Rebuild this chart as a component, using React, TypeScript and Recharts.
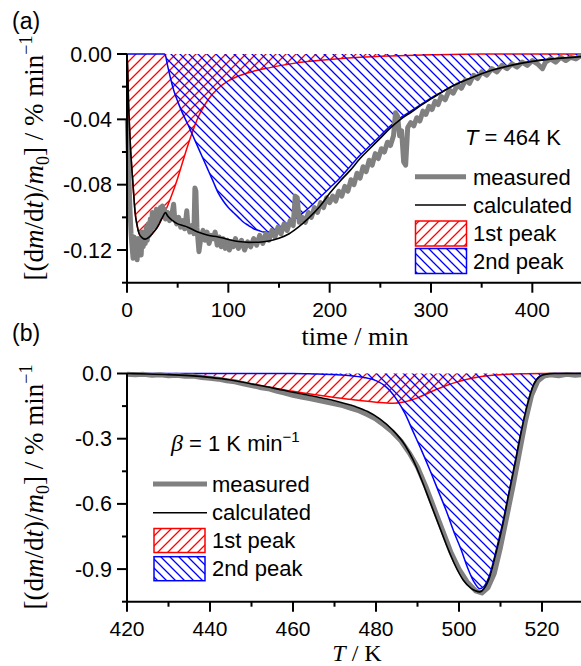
import React from 'react';
import { ComposedChart, Line, Area, XAxis, YAxis } from 'recharts';

const SANS = 'Liberation Sans, Arial, sans-serif';
const SERIF = 'Liberation Serif, Times New Roman, serif';

// (a) isothermal run, T = 464 K  — [time / min, rate]
const measuredA = [
  [0.3, -0.04], [1, -0.055], [2, -0.078], [3, -0.096], [4, -0.11], [5, -0.118], [6, -0.125], [7, -0.112],
  [8, -0.124], [9, -0.119], [10, -0.126], [11, -0.113], [12, -0.121], [13, -0.117], [14, -0.123], [15, -0.109],
  [16, -0.118], [17, -0.112], [18, -0.116], [19, -0.106], [20, -0.114], [21, -0.104], [22, -0.111], [23, -0.101],
  [24, -0.108], [25, -0.097], [26, -0.104], [27, -0.099], [28, -0.106], [29, -0.095], [30, -0.102], [31, -0.096],
  [32, -0.1], [33, -0.094], [34, -0.099], [35, -0.093], [36, -0.098], [37, -0.095], [38, -0.101], [40, -0.097],
  [42, -0.102], [44, -0.099], [46, -0.092], [47, -0.1], [49, -0.104], [51, -0.1], [53, -0.106], [55, -0.102],
  [57, -0.107], [59, -0.096], [60, -0.104], [62, -0.109], [64, -0.105], [66, -0.11], [67, -0.082], [68, -0.084],
  [69, -0.106], [71, -0.121], [73, -0.112], [75, -0.108], [77, -0.114], [79, -0.109], [81, -0.116], [83, -0.111],
  [85, -0.113], [87, -0.109], [89, -0.117], [91, -0.112], [93, -0.118], [95, -0.113], [97, -0.119], [99, -0.114],
  [101, -0.12], [103, -0.115], [105, -0.118], [107, -0.113], [110, -0.119], [113, -0.114], [116, -0.12], [119, -0.115],
  [122, -0.118], [125, -0.113], [128, -0.117], [131, -0.111], [134, -0.116], [137, -0.11], [140, -0.114], [143, -0.108],
  [146, -0.112], [149, -0.106], [152, -0.11], [155, -0.104], [158, -0.108], [161, -0.102], [164, -0.105], [166, -0.087],
  [168, -0.088], [170, -0.103], [173, -0.1], [176, -0.103], [179, -0.097], [182, -0.1], [185, -0.094], [188, -0.097],
  [191, -0.091], [194, -0.094], [197, -0.088], [200, -0.091], [203, -0.087], [206, -0.09], [209, -0.084], [212, -0.087],
  [215, -0.081], [218, -0.084], [221, -0.077], [224, -0.08], [227, -0.073], [230, -0.076], [233, -0.069], [236, -0.072],
  [239, -0.065], [242, -0.068], [245, -0.061], [248, -0.064], [251, -0.058], [254, -0.06], [257, -0.054], [260, -0.056],
  [263, -0.05], [265, -0.036], [267, -0.038], [269, -0.05], [271, -0.047], [273, -0.066], [275, -0.068], [277, -0.045],
  [280, -0.042], [283, -0.044], [286, -0.039], [289, -0.041], [292, -0.035], [295, -0.037], [298, -0.032], [301, -0.034],
  [304, -0.029], [307, -0.031], [310, -0.026], [314, -0.028], [318, -0.022], [322, -0.024], [326, -0.019], [330, -0.021],
  [334, -0.016], [338, -0.018], [342, -0.013], [346, -0.015], [350, -0.011], [355, -0.013], [360, -0.009], [365, -0.011],
  [370, -0.007], [375, -0.009], [380, -0.006], [385, -0.008], [390, -0.005], [395, -0.007], [400, -0.004], [405, -0.006],
  [410, -0.009], [413, -0.005], [418, -0.003], [423, -0.005], [428, -0.002], [433, -0.004], [438, -0.002], [443, -0.003],
  [448, -0.001], [450, -0.002],
];

const calculatedA = [
  [0, 0], [0.7, -0.01], [1.5, -0.03], [2.5, -0.045], [3.5, -0.058], [5, -0.072], [6.5, -0.085], [8, -0.097],
  [10, -0.105], [12, -0.11], [15, -0.1125], [18, -0.1133], [21, -0.1125], [25, -0.11], [30, -0.106], [35, -0.1],
  [38, -0.097], [40, -0.099], [45, -0.102], [50, -0.104], [55, -0.105], [60, -0.106], [70, -0.109], [80, -0.111],
  [90, -0.112], [100, -0.1135], [110, -0.1148], [120, -0.1153], [130, -0.1152], [140, -0.1145], [150, -0.1128],
  [160, -0.11], [170, -0.1055], [180, -0.1], [190, -0.0935], [200, -0.0853], [210, -0.078], [220, -0.0714],
  [230, -0.064], [240, -0.0577], [250, -0.0515], [260, -0.0452], [270, -0.04], [280, -0.0358], [290, -0.0315],
  [300, -0.0275], [320, -0.02], [340, -0.0145], [360, -0.01], [380, -0.0068], [400, -0.0045], [420, -0.003],
  [450, -0.0015],
];

const peak1A = [
  [0, 0], [0.7, -0.01], [1.5, -0.03], [2.5, -0.045], [3.5, -0.058], [5, -0.072], [6.5, -0.085], [8, -0.097],
  [10, -0.105], [12, -0.11], [15, -0.1125], [18, -0.1133], [21, -0.1125], [25, -0.11], [30, -0.106], [35, -0.1],
  [40, -0.093], [45, -0.085], [50, -0.076], [55, -0.066], [60, -0.056], [65, -0.047], [70, -0.039], [75, -0.033],
  [80, -0.028], [90, -0.021], [100, -0.0165], [110, -0.0135], [125, -0.0105], [140, -0.0085], [160, -0.0062],
  [180, -0.0045], [200, -0.0033], [230, -0.002], [260, -0.0012], [300, -0.0005], [350, 0], [450, 0],
];

const peak2A = [
  [0, 0], [37, 0], [38, -0.001], [40, -0.007], [43, -0.015], [46, -0.022], [50, -0.029], [55, -0.0365],
  [60, -0.043], [65, -0.05], [70, -0.057], [75, -0.064], [80, -0.071], [85, -0.078], [90, -0.085], [95, -0.09],
  [100, -0.094], [105, -0.097], [110, -0.1], [115, -0.103], [120, -0.105], [125, -0.107], [130, -0.108],
  [135, -0.109], [140, -0.109], [145, -0.1088], [150, -0.108], [160, -0.104], [170, -0.099], [180, -0.094],
  [190, -0.088], [200, -0.082], [210, -0.076], [220, -0.069], [230, -0.062], [240, -0.056], [250, -0.05],
  [260, -0.044], [270, -0.039], [280, -0.035], [290, -0.031], [300, -0.027], [310, -0.0235], [320, -0.02],
  [330, -0.017], [340, -0.0145], [350, -0.012], [360, -0.01], [370, -0.0083], [380, -0.0068], [390, -0.0055],
  [400, -0.0045], [420, -0.003], [440, -0.002], [450, -0.0015],
];

// (b) heating run, beta = 1 K/min — [T / K, rate]
const measuredB = [
  [420, -0.003], [422, -0.006], [424, -0.004], [426, -0.008], [428, -0.006], [430, -0.01], [432, -0.008],
  [434, -0.013], [436, -0.012], [438, -0.018], [440, -0.022], [442, -0.026], [444, -0.033], [446, -0.038],
  [448, -0.047], [450, -0.055], [452, -0.064], [454, -0.07], [456, -0.081], [458, -0.09], [460, -0.1],
  [462, -0.108], [464, -0.115], [466, -0.123], [468, -0.131], [470, -0.139], [472, -0.148], [474, -0.16],
  [476, -0.172], [478, -0.19], [480, -0.21], [482, -0.238], [484, -0.27], [486, -0.31], [488, -0.365],
  [490, -0.43], [492, -0.52], [494, -0.62], [496, -0.72], [498, -0.82], [500, -0.9], [502, -0.96], [504, -1.0],
  [505.5, -1.01], [507, -0.985], [508.5, -0.92], [510, -0.8], [511.5, -0.66], [513, -0.52], [514.5, -0.37],
  [516, -0.22], [517.5, -0.1], [519, -0.035], [520.5, -0.012], [522, -0.006], [524, -0.01], [526, -0.004],
  [528, -0.008], [530, -0.005],
];

const calculatedB = [
  [420, 0], [425, -0.002], [430, -0.005], [435, -0.01], [440, -0.018], [445, -0.03], [450, -0.048],
  [455, -0.066], [460, -0.086], [465, -0.105], [470, -0.125], [475, -0.152], [478, -0.175], [481, -0.21],
  [484, -0.26], [487, -0.33], [489, -0.4], [491, -0.49], [493, -0.59], [495, -0.69], [497, -0.79], [499, -0.88],
  [501, -0.95], [503, -0.99], [505, -1.005], [506, -0.99], [507.5, -0.93], [509, -0.82], [510.5, -0.7],
  [512, -0.555], [513.5, -0.415], [515, -0.268], [516.5, -0.142], [518, -0.051], [519.5, -0.013], [521, -0.003],
  [523, 0], [530, 0],
];

const peak1B = [
  [420, 0], [425, -0.001], [430, -0.003], [435, -0.008], [440, -0.018], [445, -0.03], [450, -0.048],
  [455, -0.065], [460, -0.082], [465, -0.097], [470, -0.11], [475, -0.122], [480, -0.132], [484, -0.137],
  [487, -0.13], [490, -0.112], [493, -0.086], [496, -0.062], [499, -0.042], [502, -0.026], [505, -0.015],
  [508, -0.008], [512, -0.003], [516, -0.001], [520, 0], [530, 0],
];

const peak2B = [
  [420, 0], [460, 0], [465, -0.002], [470, -0.005], [474, -0.01], [477, -0.018], [480, -0.033], [482, -0.055],
  [485, -0.12], [487, -0.185], [489, -0.27], [491, -0.355], [493, -0.445], [495, -0.54], [497, -0.635],
  [499, -0.74], [500.5, -0.81], [502, -0.89], [503.5, -0.955], [505, -0.99], [506, -0.98], [507.5, -0.92],
  [509, -0.81], [510.5, -0.69], [512, -0.55], [513.5, -0.41], [515, -0.265], [516.5, -0.14], [518, -0.05],
  [519.5, -0.012], [521, -0.002], [523, 0], [530, 0],
];

const ticksAX = [0, 50, 100, 150, 200, 250, 300, 350, 400, 450];
const labelsAX = [0, 100, 200, 300, 400];
const ticksAY = [0, -0.02, -0.04, -0.06, -0.08, -0.1, -0.12, -0.14];
const labelsAY = [0, -0.04, -0.08, -0.12];
const ticksBX = [420, 430, 440, 450, 460, 470, 480, 490, 500, 510, 520, 530];
const labelsBX = [420, 440, 460, 480, 500, 520];
const ticksBY = [0, -0.15, -0.3, -0.45, -0.6, -0.75, -0.9, -1.05];
const labelsBY = [0, -0.3, -0.6, -0.9];

const pts = (rows: number[][]) => rows.map(([x, y]) => ({ x, y }));
const near = (list: number[], v: number) => list.some((l) => Math.abs(l - v) < 1e-9);
const fmt = (v: number, d: number) => (Math.abs(v) < 1e-12 ? 0 : v).toFixed(d);

const makeXTick = (labels: number[], digits: number) => (props: any) => {
  const { x, y, payload } = props;
  const major = near(labels, payload.value);
  return (
    <g>
      <line x1={x} x2={x} y1={y} y2={y + (major ? 10 : 5)} stroke="#000" strokeWidth={2} />
      {major && (
        <text x={x} y={y + 34} textAnchor="middle" fontSize={21} fontFamily={SANS} fill="#000">
          {fmt(payload.value, digits)}
        </text>
      )}
    </g>
  );
};

const makeYTick = (labels: number[], digits: number) => (props: any) => {
  const { x, y, payload } = props;
  const major = near(labels, payload.value);
  return (
    <g>
      <line x1={x - (major ? 10 : 5)} x2={x} y1={y} y2={y} stroke="#000" strokeWidth={2} />
      {major && (
        <text x={x - 15} y={y + 7.5} textAnchor="end" fontSize={21.5} fontFamily={SANS} fill="#000">
          {fmt(payload.value, digits)}
        </text>
      )}
    </g>
  );
};

const axisLine = { stroke: '#000', strokeWidth: 2 };

function Panel({
  measured, calculated, peak1, peak2, xDomain, yDomain, xTicks, xLabels, yTicks, yLabels, xDigits, yDigits, margin, height,
}: any) {
  return (
    <ComposedChart width={590} height={height} margin={margin}>
      <XAxis
        type="number"
        dataKey="x"
        domain={xDomain}
        ticks={xTicks}
        interval={0}
        height={40}
        tickSize={0}
        tickMargin={0}
        tickLine={false}
        axisLine={axisLine}
        tick={makeXTick(xLabels, xDigits)}
      />
      <YAxis
        type="number"
        dataKey="y"
        domain={yDomain}
        ticks={yTicks}
        interval={0}
        width={60}
        tickSize={0}
        tickMargin={0}
        tickLine={false}
        axisLine={axisLine}
        tick={makeYTick(yLabels, yDigits)}
      />
      <Line
        data={pts(measured)}
        dataKey="y"
        type="linear"
        stroke="#808080"
        strokeWidth={5}
        strokeLinejoin="round"
        dot={false}
        activeDot={false}
        isAnimationActive={false}
      />
      <Line
        data={pts(calculated)}
        dataKey="y"
        type="monotone"
        stroke="#000"
        strokeWidth={1.6}
        dot={false}
        activeDot={false}
        isAnimationActive={false}
      />
      <Area
        data={pts(peak1)}
        dataKey="y"
        type="monotone"
        stroke="#ff0000"
        strokeWidth={1.5}
        fill="url(#hatchRed)"
        fillOpacity={1}
        dot={false}
        activeDot={false}
        isAnimationActive={false}
      />
      <Area
        data={pts(peak2)}
        dataKey="y"
        type="monotone"
        stroke="#0000ff"
        strokeWidth={1.5}
        fill="url(#hatchBlue)"
        fillOpacity={1}
        dot={false}
        activeDot={false}
        isAnimationActive={false}
      />
    </ComposedChart>
  );
}

const txt = { fontFamily: SANS, fontSize: 22, fill: '#000' };

export default function App() {
  return (
    <div style={{ position: 'absolute', left: 0, top: 0, width: 581, height: 666, overflow: 'hidden', background: '#fff' }}>
      <svg width={0} height={0} style={{ position: 'absolute' }}>
        <defs>
          <pattern id="hatchRed" patternUnits="userSpaceOnUse" width={10} height={10}>
            <path d="M-2,2 l4,-4 M0,10 l10,-10 M8,12 l4,-4" stroke="#ff0000" strokeWidth={1.3} />
          </pattern>
          <pattern id="hatchBlue" patternUnits="userSpaceOnUse" width={9} height={9}>
            <path d="M-2,7 l4,4 M0,0 l9,9 M7,-2 l4,4" stroke="#0000ff" strokeWidth={1.3} />
          </pattern>
        </defs>
      </svg>

      <div style={{ position: 'absolute', left: 0, top: 0 }}>
        <Panel
          measured={measuredA}
          calculated={calculatedA}
          peak1={peak1A}
          peak2={peak2A}
          xDomain={[0, 450]}
          yDomain={[-0.14, 0]}
          xTicks={ticksAX}
          xLabels={labelsAX}
          yTicks={ticksAY}
          yLabels={labelsAY}
          xDigits={0}
          yDigits={2}
          height={330}
          margin={{ top: 54, right: 7, bottom: 7.3, left: 67 }}
        />
      </div>
      <div style={{ position: 'absolute', left: 0, top: 330 }}>
        <Panel
          measured={measuredB}
          calculated={calculatedB}
          peak1={peak1B}
          peak2={peak2B}
          xDomain={[420, 530]}
          yDomain={[-1.05, 0]}
          xTicks={ticksBX}
          xLabels={labelsBX}
          yTicks={ticksBY}
          yLabels={labelsBY}
          xDigits={0}
          yDigits={1}
          height={336}
          margin={{ top: 43.5, right: 6.5, bottom: 24.3, left: 67 }}
        />
      </div>

      <svg width={581} height={666} style={{ position: 'absolute', left: 0, top: 0, pointerEvents: 'none' }}>
        <text x={12} y={29} {...txt} fontSize={23}>(a)</text>
        <text x={12} y={341} {...txt} fontSize={23}>(b)</text>

        <text x={355} y={345} textAnchor="middle" fontFamily={SERIF} fontSize={26}>time / min</text>
        <text x={357} y={661} textAnchor="middle" fontFamily={SERIF} fontSize={24}>
          <tspan fontStyle="italic">T</tspan> / K
        </text>

        {[158, 487].map((cy) => (
          <text key={cy} transform={`translate(43,${cy}) rotate(-90)`} textAnchor="middle" fontFamily={SERIF} fontSize={27}>
            [(d<tspan fontStyle="italic">m</tspan>/d<tspan fontStyle="italic">t</tspan>)/<tspan fontStyle="italic">m</tspan>
            <tspan fontSize={18} dy={6}>0</tspan>
            <tspan dy={-6}>] / % min</tspan>
            <tspan fontSize={18} dy={-11}>−1</tspan>
          </text>
        ))}

        <text x={465} y={145} {...txt}>
          <tspan fontStyle="italic">T</tspan> = 464 K
        </text>
        <line x1={415} x2={466} y1={176.7} y2={176.7} stroke="#808080" strokeWidth={5} />
        <text x={473} y={185} {...txt}>measured</text>
        <line x1={415} x2={466} y1={205} y2={205} stroke="#000" strokeWidth={1.6} />
        <text x={473} y={213} {...txt}>calculated</text>
        <rect x={415.5} y={221} width={51} height={25} fill="url(#hatchRed)" stroke="#ff0000" strokeWidth={1.5} />
        <text x={473} y={241} {...txt}>1st peak</text>
        <rect x={415.5} y={248.5} width={51} height={25} fill="url(#hatchBlue)" stroke="#0000ff" strokeWidth={1.5} />
        <text x={473} y={269} {...txt}>2nd peak</text>

        <text x={171} y={451} {...txt}>
          <tspan fontStyle="italic" fontFamily={SERIF} fontSize={24}>β</tspan> = 1 K min
          <tspan fontSize={15} dy={-9}>−1</tspan>
        </text>
        <line x1={153} x2={207} y1={484} y2={484} stroke="#808080" strokeWidth={5} />
        <text x={212} y={492} {...txt}>measured</text>
        <line x1={153} x2={207} y1={512.7} y2={512.7} stroke="#000" strokeWidth={1.6} />
        <text x={212} y={520} {...txt}>calculated</text>
        <rect x={154} y={528.5} width={51} height={24} fill="url(#hatchRed)" stroke="#ff0000" strokeWidth={1.5} />
        <text x={212} y={548} {...txt}>1st peak</text>
        <rect x={154} y={556.7} width={51} height={24} fill="url(#hatchBlue)" stroke="#0000ff" strokeWidth={1.5} />
        <text x={212} y={576} {...txt}>2nd peak</text>
      </svg>
    </div>
  );
}
